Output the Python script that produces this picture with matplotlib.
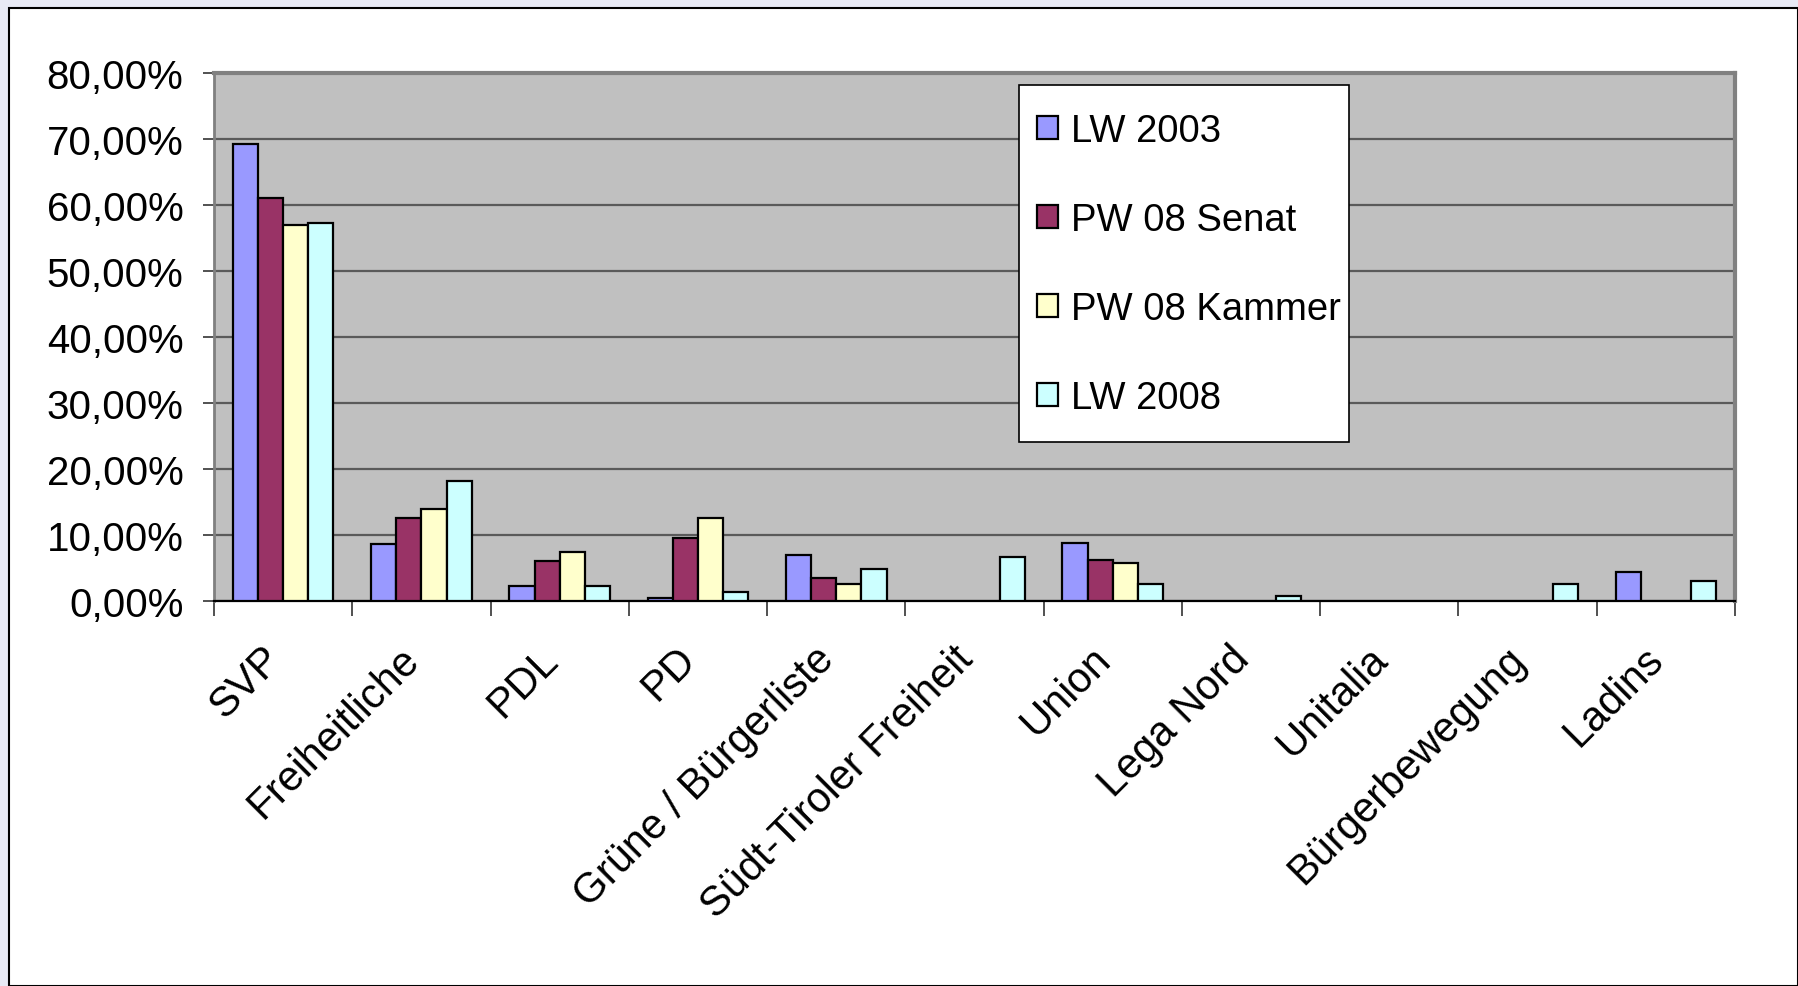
import numpy as np
import matplotlib
matplotlib.use("Agg")
import matplotlib.pyplot as plt
import matplotlib.transforms as mtransforms
from matplotlib.patches import Rectangle

plt.rcParams['font.family'] = ['Liberation Sans', 'DejaVu Sans']

parties = ["SVP", "Freiheitliche", "PDL", "PD", "Grüne / Bürgerliste",
           "Südt-Tiroler Freiheit", "Union", "Lega Nord", "Unitalia",
           "Bürgerbewegung", "Ladins"]
nan = np.nan
lw_2003 = [69.2, 8.7, 2.2, 0.5, 6.9, nan, 8.8, nan, nan, nan, 4.4]
pw_senat = [61.1, 12.6, 6.1, 9.5, 3.5, nan, 6.2, nan, nan, nan, nan]
pw_kammer = [56.9, 13.9, 7.4, 12.6, 2.6, nan, 5.7, nan, nan, nan, nan]
lw_2008 = [57.3, 18.2, 2.2, 1.3, 4.8, 6.6, 2.6, 0.8, nan, 2.6, 3.1]

series = [("LW 2003", lw_2003, "#9999FF"),
          ("PW 08 Senat", pw_senat, "#993366"),
          ("PW 08 Kammer", pw_kammer, "#FFFFCC"),
          ("LW 2008", lw_2008, "#CCFFFF")]
yticks = [0, 10, 20, 30, 40, 50, 60, 70, 80]

W, H = 1798, 987
fig = plt.figure(figsize=(W / 100, H / 100), dpi=100)
fig.patch.set_facecolor("#E8EAF5")
frame = Rectangle((9 / W, 0), 1 - 9 / W, (H - 9) / H, transform=fig.transFigure,
                  facecolor="white", edgecolor="black", lw=1.5, zorder=-1)
fig.add_artist(frame)

ax = fig.add_axes([214 / W, 1 - 602 / H, (1735 - 214) / W, (602 - 74) / H])
ax.set_facecolor("#C0C0C0")

x = np.arange(len(parties)) + 0.5
w = 1 / 5.5
for i, (name, vals, col) in enumerate(series):
    ax.bar(x + (i - 1.5) * w, vals, w, color=col, edgecolor="black",
           linewidth=1.6, label=name, zorder=3)

ax.set_xlim(0, len(parties))
ax.set_ylim(0, 80)
ax.set_yticks(yticks)
ax.set_yticklabels([("%.2f%%" % v).replace(".", ",") for v in yticks], fontsize=29)
ax.yaxis.grid(True, color="#5a5a5a", lw=1.6, zorder=1)
ax.tick_params(axis="y", length=8, width=1.2, pad=14, color="#333333")

ax.set_xticks(x)
ax.set_xticklabels(parties, rotation=45, ha="right", va="center",
                   rotation_mode="anchor", fontsize=30)
ax.tick_params(axis="x", which="major", length=0, pad=40)
shift = mtransforms.ScaledTranslation(-0.08, 0.04, fig.dpi_scale_trans)
for lab in ax.get_xticklabels():
    lab.set_transform(lab.get_transform() + shift)
ax.set_xticks(np.arange(len(parties) + 1), minor=True)
ax.tick_params(axis="x", which="minor", length=11, width=1.2, color="#333333")

for s in ["top", "right"]:
    ax.spines[s].set_color("#808080")
    ax.spines[s].set_linewidth(3)
ax.spines["left"].set_color("#808080")
ax.spines["left"].set_linewidth(2)
ax.spines["bottom"].set_color("black")
ax.spines["bottom"].set_linewidth(1.6)

# legend without frame, box drawn by hand (Excel pads it unevenly)
leg = ax.legend(loc="upper left", bbox_to_anchor=(0.541, 0.924), fontsize=27.5,
                frameon=False, handlelength=0.55, handleheight=0.55,
                labelspacing=1.39, handletextpad=0.35, borderpad=0,
                borderaxespad=0)
leg.set_zorder(6)
fig.canvas.draw()
bb = leg.get_window_extent(fig.canvas.get_renderer())
inv = ax.transAxes.inverted()
(bx0, by0), (bx1, by1) = inv.transform([(bb.x0 - 18, bb.y0 - 26), (bb.x1 + 8, bb.y1 + 28)])
ax.add_patch(Rectangle((bx0, by0), bx1 - bx0, by1 - by0, transform=ax.transAxes,
                       facecolor="white", edgecolor="black", lw=1.2, zorder=5))

fig.savefig("out.png", dpi=100, facecolor=fig.get_facecolor())
